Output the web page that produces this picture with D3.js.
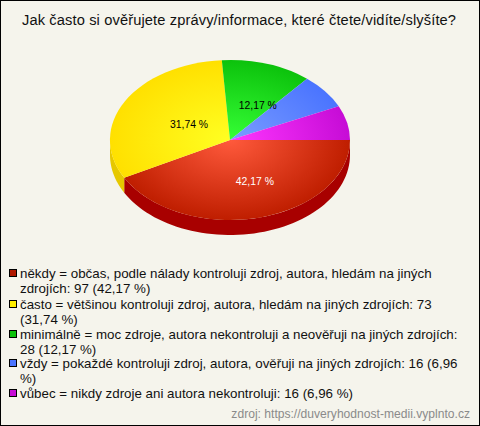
<!DOCTYPE html>
<html><head><meta charset="utf-8">
<style>html,body{margin:0;padding:0;background:#fff}svg{display:block}text{font-family:"Liberation Sans",Arial,sans-serif}</style>
<script src="https://cdn.jsdelivr.net/npm/d3@7/dist/d3.min.js"></script></head><body>
<script>
const title = "Jak často si ověřujete zprávy/informace, které čtete/vidíte/slyšíte?";
const source = "zdroj: https://duveryhodnost-medii.vyplnto.cz";
const values = [97, 73, 28, 16, 16];
const percentLabels = ["42,17 %", "31,74 %", "12,17 %", "", ""];
const legendLines = [
  ["někdy = občas, podle nálady kontroluji zdroj, autora, hledám na jiných", "zdrojích: 97 (42,17 %)"],
  ["často = většinou kontroluji zdroj, autora, hledám na jiných zdrojích: 73", "(31,74 %)"],
  ["minimálně = moc zdroje, autora nekontroluji a neověřuji na jiných zdrojích:", "28 (12,17 %)"],
  ["vždy = pokaždé kontroluji zdroj, autora, ověřuji na jiných zdrojích: 16 (6,96", "%)"],
  ["vůbec = nikdy zdroje ani autora nekontroluji: 16 (6,96 %)"]
];
const inner = ["#ff5a3c", "#ffff22", "#36ff36", "#7a9cff", "#ff36ff"];
const outer = ["#bf1e00", "#ffe000", "#0cc20c", "#4a74ff", "#c60cd6"];
const side = ["#a80000", "#e6c800", "#0a9a0a", "#3a5ccc", "#a00ab0"];
const swatch = ["#b01800", "#ffee00", "#0cc20c", "#4a74ff", "#c60cd6"];
const labelColor = ["#fff", "#000", "#000"];
const labelRadiusX = [.85, .39, .75];
const labelRadiusY = [.53, .41, .46];

const W = 480, H = 426, cx = 230, cy = 140, rx = 120, ry = 80, depth = 15;
const svg = d3.select("body").append("svg").attr("width", W).attr("height", H);
svg.append("rect").attr("x", .5).attr("y", .5).attr("width", W - 1).attr("height", H - 1)
  .attr("fill", "#f5f4ec").attr("stroke", "#000");
svg.append("text").attr("x", 22).attr("y", 25).attr("font-size", 14.67).attr("fill", "#111")
  .attr("textLength", 434).attr("lengthAdjust", "spacing").text(title);

const defs = svg.append("defs");
values.forEach((v, i) => {
  const g = defs.append("radialGradient").attr("id", "g" + i).attr("gradientUnits", "userSpaceOnUse")
    .attr("cx", 0).attr("cy", 0).attr("r", 1);
  g.append("stop").attr("offset", 0).attr("stop-color", inner[i]);
  g.append("stop").attr("offset", 1).attr("stop-color", outer[i]);
});

const pie = d3.pie().sort(null).startAngle(Math.PI / 2).endAngle(Math.PI * 2.5);
const arcs = pie(values);
const arc = d3.arc().innerRadius(0).outerRadius(1);
const px = d3.scaleLinear().domain([-1, 1]).range([cx - rx, cx + rx]);
const py = d3.scaleLinear().domain([-1, 1]).range([cy - ry, cy + ry]);

// side wall: the part of each slice facing the viewer (d3 angles PI/2..3PI/2)
const wall = svg.append("g");
arcs.forEach((a, i) => {
  const s = Math.max(a.startAngle, Math.PI / 2), e = Math.min(a.endAngle, Math.PI * 1.5);
  if (e <= s) return;
  const ts = d3.range(0, 61).map(k => s + (e - s) * k / 60);
  const top = ts.map(t => [px(Math.sin(t)), py(-Math.cos(t))]);
  const bot = ts.slice().reverse().map(t => [px(Math.sin(t)), py(-Math.cos(t)) + depth]);
  wall.append("path").attr("d", d3.line()(top.concat(bot)) + "Z").attr("fill", side[i]);
});

const pieG = svg.append("g").attr("transform", `translate(${cx},${cy}) scale(${rx},${ry})`);
pieG.selectAll("path").data(arcs).join("path").attr("d", arc).attr("fill", (d, i) => `url(#g${i})`);

const mid = d => (d.startAngle + d.endAngle) / 2;
svg.append("g").selectAll("text").data(arcs.slice(0, 3)).join("text")
  .attr("x", (d, i) => px(Math.sin(mid(d)) * labelRadiusX[i]))
  .attr("y", (d, i) => py(-Math.cos(mid(d)) * labelRadiusY[i]) + 4)
  .attr("text-anchor", "middle").attr("font-size", 10.4)
  .attr("fill", (d, i) => labelColor[i])
  .text((d, i) => percentLabels[i]);

// legend
const rowY = [278, 309, 339, 368, 398];
const lineH = 14.5;
const leg = svg.append("g");
legendLines.forEach((lines, i) => {
  leg.append("rect").attr("x", 9.5).attr("y", rowY[i] - 8.5).attr("width", 7).attr("height", 7)
    .attr("fill", swatch[i]).attr("stroke", "#000");
  lines.forEach((t, j) => leg.append("text").attr("x", 20).attr("y", rowY[i] + j * lineH)
    .attr("font-size", 13.33).attr("fill", "#111").text(t));
});
svg.append("text").attr("x", 470).attr("y", 418).attr("text-anchor", "end")
  .attr("font-size", 12.1).attr("fill", "#8a8a8a").text(source);
</script></body></html>
